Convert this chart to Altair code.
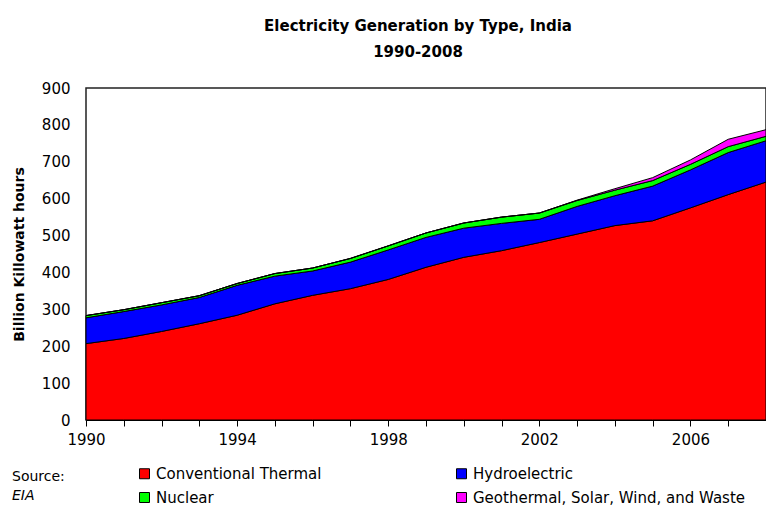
import altair as alt
import pandas as pd

years = list(range(1990, 2009))
thermal = [207, 221, 240, 261, 284, 315, 338, 356, 381, 414, 441, 459, 481, 504, 527, 540, 575, 611, 645]
hydro = [70, 73, 72, 71, 81, 75, 66, 72, 80, 81, 79, 74, 63, 75, 81, 94, 103, 114, 112]
nuclear = [6, 5, 6, 5, 5, 7, 8, 10, 11, 12, 14, 17, 17, 16, 15, 15, 15, 16, 12]
other = [0, 0, 0, 0, 0, 0, 0, 0, 0, 0, 0, 0, 0, 1, 4, 8, 12, 20, 18]

series_names = ["Conventional Thermal", "Hydroelectric", "Nuclear",
                "Geothermal, Solar, Wind, and Waste"]
series_colors = ["#FF0000", "#0000FF", "#00FF00", "#FF00FF"]
y_ticks = [0, 100, 200, 300, 400, 500, 600, 700, 800, 900]

rows = []
for k, (name, vals) in enumerate(zip(series_names, [thermal, hydro, nuclear, other])):
    for yr, v in zip(years, vals):
        rows.append({"year": yr, "type": name, "value": v, "order": k})
df = pd.DataFrame(rows)

FONT = "DejaVu Sans"

area = alt.Chart(df).mark_area(stroke="black", strokeWidth=1, interpolate="linear").encode(
    x=alt.X("year:Q",
            scale=alt.Scale(domain=[1990, 2008], nice=False, zero=False),
            axis=alt.Axis(values=years, format="d", title=None,
                          labelExpr="(datum.value - 1990) % 4 == 0 ? datum.label : ''",
                          labelFlush=False, labelOverlap=False,
                          tickSize=6, tickColor="black", domainColor="black",
                          labelFontSize=15, labelFont=FONT, labelColor="black",
                          labelPadding=6, grid=False)),
    y=alt.Y("value:Q", stack="zero",
            scale=alt.Scale(domain=[0, 900], nice=False),
            axis=alt.Axis(values=y_ticks, title="Billion Killowatt hours",
                          titleFont=FONT, titleFontSize=14, titleFontWeight="bold",
                          titleColor="black", titlePadding=15,
                          tickSize=0, domain=False, grid=False,
                          labelFontSize=15, labelFont=FONT, labelColor="black",
                          labelPadding=16)),
    color=alt.Color("type:N",
                    scale=alt.Scale(domain=series_names, range=series_colors),
                    legend=alt.Legend(title=None, orient="none", legendX=51, legendY=378,
                                      direction="horizontal",
                                      columns=2, columnPadding=132, rowPadding=8,
                                      symbolType="square", symbolSize=100,
                                      symbolStrokeColor="black", symbolStrokeWidth=1,
                                      labelFont=FONT, labelFontSize=15, labelColor="black",
                                      labelLimit=400, labelOffset=4)),
    order=alt.Order("order:Q", sort="ascending"),
)

src1 = alt.Chart(pd.DataFrame({"t": ["Source:"]})).mark_text(
    align="left", baseline="middle", font=FONT, fontSize=14, color="black"
).encode(text="t:N", x=alt.value(-74), y=alt.value(389))

src2 = alt.Chart(pd.DataFrame({"t": ["EIA"]})).mark_text(
    align="left", baseline="middle", font=FONT, fontSize=14, fontStyle="italic", color="black"
).encode(text="t:N", x=alt.value(-74), y=alt.value(408))

chart = alt.layer(area, src1, src2).properties(
    width=680, height=332,
    title=alt.TitleParams(text=["Electricity Generation by Type, India", "1990-2008"],
                          font=FONT, fontSize=15, fontWeight="bold", color="black",
                          anchor="middle", dx=-8, offset=21, lineHeight=26),
    autosize=alt.AutoSizeParams(type="none"),
    padding={"left": 78, "top": 80, "right": 0, "bottom": 86},
).configure_view(stroke="#222222", strokeWidth=1.5)

chart.save("out.html", embed_options={"renderer": "svg", "actions": False})
